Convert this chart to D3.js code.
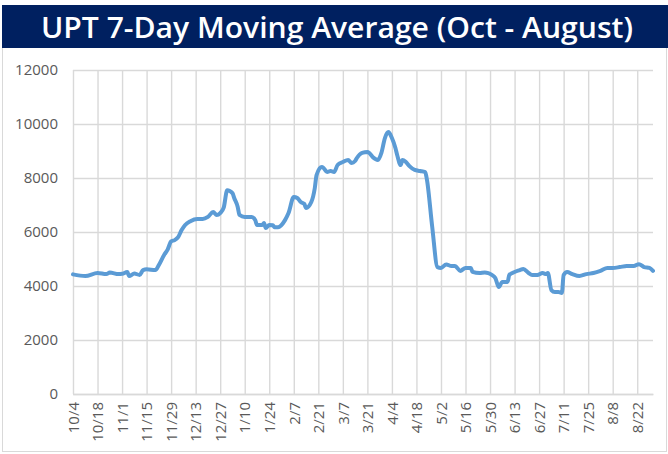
<!DOCTYPE html>
<html>
<head>
<meta charset="utf-8">
<script src="https://cdn.jsdelivr.net/npm/d3@7"></script>
<style>
  body { margin: 0; background: #fff; }
  svg { display: block; }
</style>
</head>
<body>
<div id="chart-area"></div>
<script>
// UPT 7-day moving average, Oct 2020 - Aug 2021
var days = ["10/4","10/11","10/18","10/23","10/25","10/30","11/1","11/4","11/5","11/8",
  "11/11","11/13","11/15","11/20","11/22","11/25","11/27","11/29","12/1","12/3",
  "12/5","12/7","12/10","12/14","12/17","12/20","12/23","12/25","12/27","12/29",
  "12/31","1/3","1/4","1/6","1/7","1/10","1/14","1/16","1/17","1/20",
  "1/21","1/22","1/24","1/26","1/27","1/29","2/2","2/4","2/7","2/9",
  "2/11","2/13","2/14","2/17","2/19","2/20","2/23","2/24","2/26","2/28",
  "3/2","3/4","3/7","3/10","3/12","3/14","3/15","3/18","3/21","3/22",
  "3/24","3/27","3/29","3/31","4/2","4/4","4/6","4/7","4/9","4/10",
  "4/12","4/14","4/17","4/20","4/23","4/24","4/27","4/30","5/2","5/5",
  "5/8","5/10","5/13","5/16","5/19","5/20","5/24","5/27","5/29","5/31",
  "6/2","6/4","6/6","6/9","6/10","6/13","6/16","6/18","6/21","6/23",
  "6/26","6/29","7/1","7/2","7/4","7/6","7/8","7/10","7/11","7/13",
  "7/16","7/20","7/24","7/28","8/1","8/5","8/8","8/12","8/16","8/20",
  "8/23","8/26","8/29","8/31"]

var upt = [4430,4370,4480,4440,4500,4440,4450,4520,4370,4460,
  4410,4590,4620,4590,4780,5150,5350,5650,5700,5810,
  6070,6260,6400,6480,6480,6560,6740,6630,6700,6900,
  7550,7440,7260,6930,6630,6560,6560,6440,6260,6260,
  6330,6150,6260,6250,6180,6180,6440,6700,7300,7260,
  7110,7040,6890,7110,7630,8110,8410,8370,8220,8260,
  8220,8480,8590,8670,8560,8630,8740,8930,8960,8930,
  8780,8670,8930,9480,9700,9480,9110,8850,8480,8670,
  8590,8440,8300,8260,8220,7930,6190,4700,4670,4800,
  4740,4740,4560,4670,4670,4520,4480,4500,4480,4410,
  4300,3960,4150,4150,4410,4520,4590,4630,4480,4410,
  4410,4480,4440,4480,3850,3780,3780,3740,4410,4520,
  4440,4370,4440,4480,4560,4670,4670,4700,4740,4740,
  4810,4700,4670,4560]

var xTickLabels = ["10/4","10/18","11/1","11/15","11/29","12/13","12/27","1/10","1/24",
  "2/7","2/21","3/7","3/21","4/4","4/18","5/2","5/16","5/30","6/13","6/27",
  "7/11","7/25","8/8","8/22"]
var yTicks = [0, 2000, 4000, 6000, 8000, 10000, 12000]

var title = "UPT 7-Day Moving Average (Oct - August)"

// M/D -> date (Oct-Dec is 2020, the rest 2021)
function parseDay(s) {
  var p = s.split("/")
  var m = +p[0]
  return new Date(m >= 10 ? 2020 : 2021, m - 1, +p[1])
}

var W = 668, H = 454
var margin = { top: 70, bottom: 60, left: 73, right: 15 }
var width = W - margin.left - margin.right
var height = H - margin.top - margin.bottom

var svg = d3.select("#chart-area")
  .append("svg")
  .attr("width", W)
  .attr("height", H)

// chart border
svg.append("rect")
  .attr("x", 2.5)
  .attr("y", 40.5)
  .attr("width", W - 4)
  .attr("height", H - 43)
  .attr("fill", "#fff")
  .attr("stroke", "#d9d9d9")

// title bar
svg.append("rect")
  .attr("x", 2)
  .attr("y", 5)
  .attr("width", W - 2)
  .attr("height", 43)
  .attr("fill", "#002060")

svg.append("text")
  .text(title)
  .attr("x", 337)
  .attr("y", 38)
  .attr("text-anchor", "middle")
  .attr("fill", "#fff")
  .attr("font-family", "'Open Sans', sans-serif")
  .attr("font-weight", 600)
  .attr("font-size", "29px")
  .attr("textLength", 592)
  .attr("lengthAdjust", "spacingAndGlyphs")

var g = svg.append("g")
  .attr("transform", "translate(" + margin.left + "," + margin.top + ")")

var data = days.map(function(d, i) {
  return { date: parseDay(d), value: upt[i] }
})

var x = d3.scaleTime()
  .domain([parseDay("10/4"), parseDay("8/31")])
  .range([0, width])

var y = d3.scaleLinear()
  .domain([0, 12000])
  .range([height, 0])

var yAxisCall = d3.axisLeft(y)
  .tickValues(yTicks)
  .tickSize(-width)
  .tickPadding(15)
  .tickFormat(d3.format("d"))

var yAxis = g.append("g")
  .attr("class", "y axis")
  .call(yAxisCall)
yAxis.select(".domain").remove()

var xAxisCall = d3.axisBottom(x)
  .tickValues(xTickLabels.map(parseDay))
  .tickSize(-height)
  .tickSizeOuter(0)
  .tickFormat(function(d, i) { return xTickLabels[i] })

var xAxis = g.append("g")
  .attr("class", "x axis")
  .attr("transform", "translate(0," + height + ")")
  .call(xAxisCall)

xAxis.selectAll("text")
  .attr("transform", "rotate(-90)")
  .attr("text-anchor", "end")
  .attr("x", -8)
  .attr("y", 0)
  .attr("dy", "0.35em")

g.selectAll(".axis line, .axis .domain")
  .attr("stroke", "#d9d9d9")
  .attr("stroke-width", 1.4)

g.selectAll(".axis text")
  .attr("fill", "#595959")
  .attr("font-family", "'Open Sans', sans-serif")
  .attr("font-size", "15px")

var line = d3.line()
  .x(d => x(d.date))
  .y(d => y(d.value))
  .curve(d3.curveMonotoneX)

g.append("path")
  .datum(data)
  .attr("d", line)
  .attr("fill", "none")
  .attr("stroke", "#5b9bd5")
  .attr("stroke-width", 4)
  .attr("stroke-linejoin", "round")
  .attr("stroke-linecap", "round")
</script>
</body>
</html>
